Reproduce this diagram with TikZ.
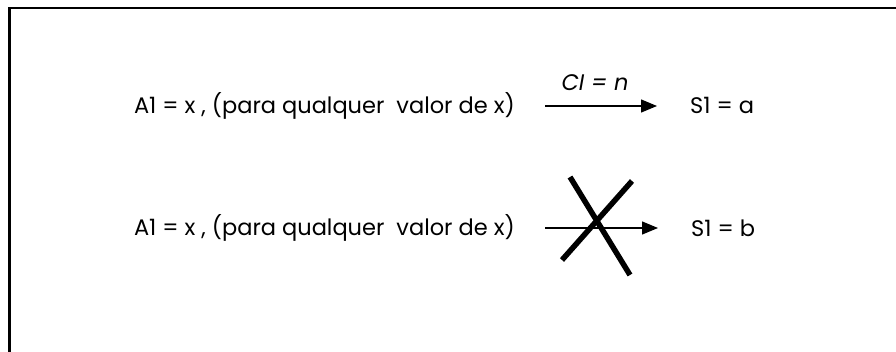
\documentclass[tikz,border=0pt]{standalone}
\usepackage{fontspec}
\setmainfont{Poppins}
\usetikzlibrary{arrows.meta}

\begin{document}
\begin{tikzpicture}[x=1pt,y=-1pt,
  txt/.style={inner sep=0pt,font=\fontsize{22.5}{27}\selectfont},
  arr/.style={line width=1.3pt,-{Triangle[length=16pt,width=13pt]},shorten <=30pt,shorten >=33pt},
  cross/.style={line width=5.5pt}]
\useasboundingbox (0,0) rectangle (896,352);
\clip (0,0) rectangle (896,352);
\fill[white] (0,0) rectangle (896,352);
\draw[line width=2.3pt] (9.5,8) rectangle (920,380);
% first line
\node[txt,anchor=east] (l1) at (515,106) {A1 = x , (para qualquer \ valor de x)};
\node[txt,anchor=west] (s1a) at (690,105) {S1 = a};
\draw[arr] (l1.east) -- (s1a.west |- l1.east) coordinate (e1);
\node[txt] (ci) at (595,83) {\itshape CI = n};
% second line
\node[txt,anchor=east] (l2) at (515,228) {A1 = x , (para qualquer \ valor de x)};
\node[txt,anchor=west] (s1b) at (691,228) {S1 = b};
\draw[arr] (l2.east) -- (s1b.west |- l2.east) coordinate (e2);
\draw[cross] (570,177) -- (630,275);
\draw[cross] (632,181) -- (562,260);
\end{tikzpicture}
\end{document}
